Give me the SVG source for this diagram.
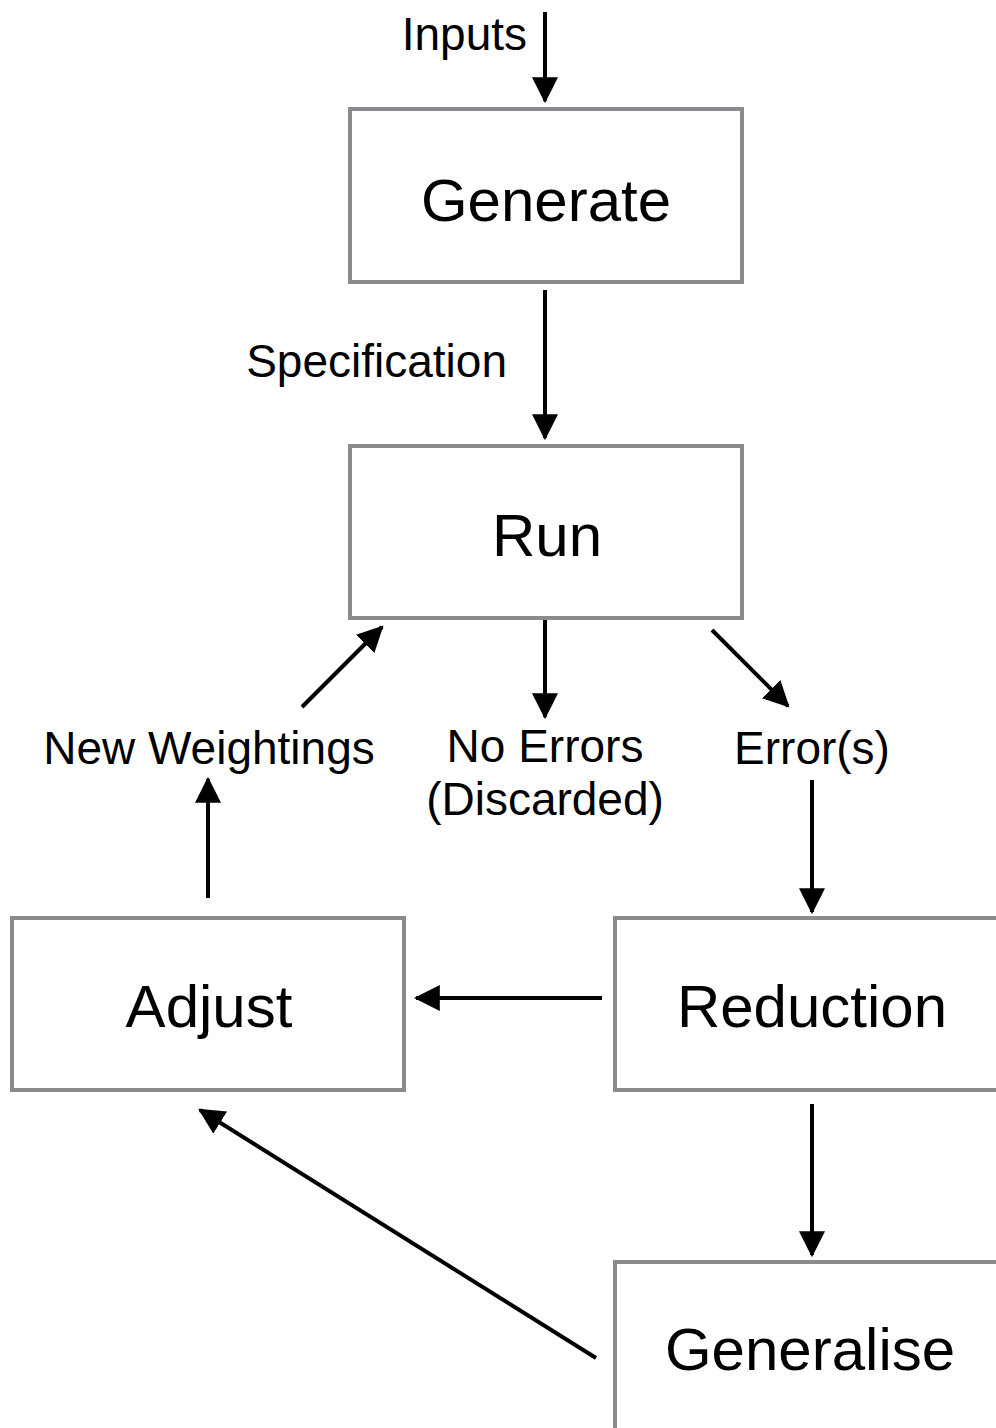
<svg xmlns="http://www.w3.org/2000/svg" width="996" height="1428" viewBox="0 0 996 1428">
<style>
.box{fill:#fff;stroke:#898b8e;stroke-width:4}
.big{font-family:"Liberation Sans",Arial,sans-serif;font-size:60px;fill:#000;text-anchor:middle}
.lbl{font-family:"Liberation Sans",Arial,sans-serif;font-size:46px;fill:#000;text-anchor:middle}
.c{stroke:#000;stroke-width:4;fill:none;marker-end:url(#ah)}
</style>
<defs>
<marker id="ah" markerUnits="userSpaceOnUse" markerWidth="26" markerHeight="26" viewBox="0 0 24 24" refX="22" refY="12" orient="auto">
<path d="M0,0 L24,12 L0,24 Z" fill="#000"/>
</marker>
</defs>
<rect width="996" height="1428" fill="#fff"/>
<g id="connectors">
<line class="c" x1="545" y1="12" x2="545" y2="101"/>
<line class="c" x1="545" y1="290" x2="545" y2="438"/>
<line class="c" x1="545" y1="618" x2="545" y2="717"/>
<line class="c" x1="712" y1="630" x2="788" y2="706"/>
<line class="c" x1="302" y1="707" x2="382" y2="627"/>
<line class="c" x1="812" y1="780" x2="812" y2="912"/>
<line class="c" x1="602" y1="998" x2="416" y2="998"/>
<line class="c" x1="812" y1="1104" x2="812" y2="1255"/>
<line class="c" x1="596" y1="1358" x2="200" y2="1110"/>
<line class="c" x1="208" y1="898" x2="208" y2="779"/>
</g>
<g id="inputs-label"><text class="lbl" x="527" y="50" style="text-anchor:end">Inputs</text></g>
<g id="specification-label"><text class="lbl" x="507" y="377" style="text-anchor:end">Specification</text></g>
<g id="generate"><rect class="box" x="350" y="109" width="392" height="173"/><text class="big" x="546" y="221">Generate</text></g>
<g id="run"><rect class="box" x="350" y="446" width="392" height="172"/><text class="big" x="547" y="556">Run</text></g>
<g id="new-weightings"><text class="lbl" x="209" y="764">New Weightings</text></g>
<g id="no-errors"><text class="lbl" x="545" y="762">No Errors</text><text class="lbl" x="545" y="815">(Discarded)</text></g>
<g id="errors"><text class="lbl" x="812" y="764">Error(s)</text></g>
<g id="adjust"><rect class="box" x="12" y="918" width="392" height="172"/><text class="big" x="209" y="1027">Adjust</text></g>
<g id="reduction"><rect class="box" x="615" y="918" width="400" height="172"/><text class="big" x="812" y="1027">Reduction</text></g>
<g id="generalise"><rect class="box" x="615" y="1262" width="400" height="200"/><text class="big" x="810" y="1370">Generalise</text></g>
</svg>
